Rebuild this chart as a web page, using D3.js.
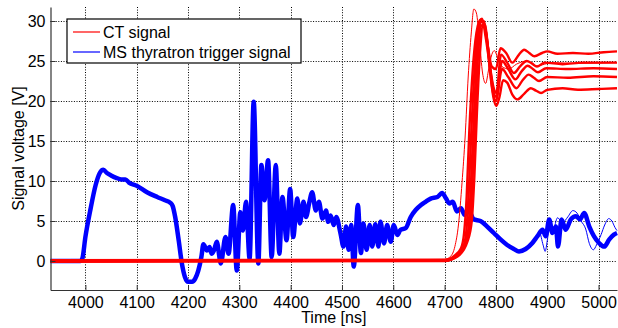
<!DOCTYPE html>
<html>
<head>
<meta charset="utf-8">
<script src="https://cdn.jsdelivr.net/npm/d3@7"></script>
<style>
  body { margin: 0; background: #fff; }
  text { font-family: "Liberation Sans", Arial, sans-serif; }
</style>
</head>
<body>
<svg id="plot"></svg>
<script>
// Tick values
var xTicks = [4000, 4100, 4200, 4300, 4400, 4500, 4600, 4700, 4800, 4900, 5000];
var yTicks = [0, 5, 10, 15, 20, 25, 30];

// MS thyratron trigger signal, main (thick) band: [time ns, volts]
var msMain = [
  [3932, 0], [3990, 0], [3994, 0.3], [4000, 3.0], [4010, 6.5], [4020, 9.5], [4028, 11.0],
  [4035, 11.4], [4042, 11.0], [4050, 10.7], [4060, 10.4], [4070, 10.2], [4078, 10.2],
  [4085, 9.8], [4100, 9.4], [4120, 8.6], [4140, 8.0], [4155, 7.6], [4165, 7.3], [4170, 6.9],
  [4175, 5.5], [4182, 2.5], [4188, -0.3], [4194, -2.0], [4200, -2.6], [4208, -2.6],
  [4214, -2.2], [4220, -1.2], [4226, 0.5], [4230, 2.1], [4237, 1.3], [4242, 1.75],
  [4246, 0.9], [4251, 1.4], [4256, 2.4], [4264, -0.3], [4273, 3.0], [4279, 0.9],
  [4288, 7.0], [4295, -1.2], [4302, 6.1], [4307, 3.8], [4313, 7.4], [4320, 0.3],
  [4328, 19.9], [4337, -0.3], [4343, 12.0], [4349, 7.6], [4356, 12.6], [4363, 0.5],
  [4371, 12.0], [4378, 0.9], [4384, 8.0], [4392, 2.6], [4399, 9.0], [4405, 3.0],
  [4413, 7.8], [4418, 4.7], [4425, 7.4], [4430, 5.5], [4436, 7.2], [4442, 8.6],
  [4449, 6.3], [4455, 7.4], [4462, 5.3], [4469, 6.3], [4473, 4.9], [4478, 5.7],
  [4484, 4.5], [4489, 5.5], [4497, 3.5], [4503, 1.8], [4508, 4.3], [4513, 1.4],
  [4518, 4.5], [4523, -0.7], [4531, 7.0], [4537, 1.0], [4542, 4.7], [4548, 1.4],
  [4554, 4.5], [4559, 1.8], [4565, 4.6], [4571, 1.8], [4575, 4.9], [4582, 2.2],
  [4588, 4.5], [4595, 2.4], [4601, 4.5], [4608, 3.25], [4614, 3.9], [4624, 4.1],
  [4634, 5.5], [4644, 6.4], [4654, 7.0], [4663, 7.4], [4673, 7.8], [4686, 8.0],
  [4695, 8.5], [4703, 7.8], [4709, 7.2], [4716, 7.4], [4724, 6.2], [4732, 6.6],
  [4739, 5.75], [4746, 6.4], [4757, 5.2], [4770, 5.0], [4783, 4.3], [4796, 3.5],
  [4809, 2.7], [4822, 2.0], [4835, 1.5], [4845, 1.2], [4858, 1.5], [4871, 2.25],
  [4881, 3.1], [4891, 3.9], [4897, 3.1], [4904, 5.2], [4910, 3.5], [4917, 4.3],
  [4921, 1.8], [4928, 5.2], [4936, 3.9], [4946, 5.2], [4956, 5.6], [4964, 5.2],
  [4972, 6.0], [4982, 4.3], [4991, 3.1], [5001, 2.25], [5011, 1.8], [5021, 2.7],
  [5030, 3.3], [5036, 3.5]
];

// MS thyratron trigger signal, one stray thin trace near the end
var msThin = [
  [4860, 1.5], [4875, 2.3], [4885, 3.5], [4892, 2.0], [4896, 1.2], [4900, 2.5],
  [4906, 5.0], [4912, 4.0], [4920, 5.4], [4930, 4.8], [4940, 5.5], [4950, 6.3],
  [4958, 6.0], [4966, 5.0], [4975, 4.0], [4982, 2.2], [4990, 1.4], [4996, 2.0],
  [5005, 3.3], [5012, 4.5], [5020, 5.3], [5026, 5.0], [5032, 4.2], [5036, 3.8]
];

// CT signal traces
var ctEarly = [
  [3932, 0], [4700, 0.2], [4712, 0.6], [4720, 1.8], [4727, 4.5], [4734, 9.8],
  [4740, 15.5], [4746, 23], [4752, 28.5], [4757, 31.5], [4762, 31], [4768, 27.5],
  [4774, 23.5], [4780, 22.2], [4786, 24], [4792, 25.8], [4797, 26.3], [4803, 25.5],
  [4812, 24.3], [4825, 24.0], [4840, 24.6], [4860, 25.0], [4880, 24.4], [4910, 24.8],
  [4960, 24.7], [5036, 24.8]
];
var ctA = [
  [3932, 0.05], [4700, 0.1], [4718, 0.6], [4732, 1.6], [4738, 3.5], [4743, 8], [4748, 16],
  [4755, 24], [4762, 28.5], [4770, 30.2], [4777, 29.5], [4785, 26.5], [4792, 24.3],
  [4800, 24.0], [4809, 26.6], [4820, 26.0], [4832, 24.8], [4845, 25.8], [4855, 26.4],
  [4865, 26.0], [4875, 25.6], [4890, 26.0], [4900, 26.2], [4920, 25.9], [4950, 26.0],
  [4980, 25.9], [5010, 26.1], [5036, 26.2]
];
var ctB = [
  [3932, -0.05], [4700, 0.05], [4720, 0.5], [4735, 1.5], [4742, 3.5], [4747, 8.5], [4752, 16],
  [4759, 24.5], [4766, 29.3], [4773, 30.3], [4780, 28.0], [4788, 24.5], [4795, 21.8],
  [4801, 21.0], [4810, 25.8], [4822, 24.8], [4835, 23.5], [4848, 24.4], [4860, 25.0],
  [4870, 24.7], [4880, 24.3], [4895, 24.8], [4930, 24.6], [4970, 24.8], [5036, 24.8]
];
var ctC = [
  [3932, 0.1], [4700, 0.15], [4722, 0.6], [4738, 1.8], [4746, 3.8], [4751, 9], [4756, 16.5],
  [4763, 25.5], [4770, 29.8], [4776, 30.0], [4783, 27.5], [4790, 23.5], [4796, 21.0],
  [4801, 20.5], [4812, 25.0], [4824, 24.0], [4838, 22.7], [4850, 23.7], [4862, 24.4],
  [4872, 24.0], [4882, 23.6], [4898, 24.1], [4940, 24.0], [4990, 24.1], [5036, 24.0]
];
var ctD = [
  [3932, -0.1], [4700, 0.0], [4724, 0.6], [4740, 2.0], [4749, 4.2], [4754, 9.5],
  [4759, 17], [4765, 25.5], [4771, 29.4], [4778, 29.6], [4785, 26.5], [4792, 22.0],
  [4800, 20.0], [4812, 24.0], [4824, 23.0], [4840, 21.6], [4852, 22.6], [4864, 23.3],
  [4874, 22.9], [4884, 22.5], [4900, 23.0], [4940, 22.9], [4990, 23.1], [5036, 23.0]
];
var ctE = [
  [3932, 0.0], [4700, 0.05], [4726, 0.6], [4745, 2.5], [4753, 5], [4758, 10.5], [4763, 18.5],
  [4769, 26], [4775, 29.5], [4781, 28.5], [4788, 24], [4795, 20.5], [4801, 19.4],
  [4807, 20.5], [4814, 22.6], [4822, 22.3], [4832, 20.8], [4842, 20.2], [4855, 20.9],
  [4868, 21.6], [4878, 21.3], [4888, 21.0], [4900, 21.4], [4930, 21.6], [4960, 21.4],
  [5000, 21.5], [5036, 21.6]
];

var legendLabels = ['CT signal', 'MS thyratron trigger signal'];

// Dimensions
var width = 618, height = 328;
var margin = {top: 7, right: 1, bottom: 38, left: 50.5};

var svg = d3.select('#plot')
  .attr('width', width)
  .attr('height', height);

// Scales
var x = d3.scaleLinear()
  .domain([3932, 5036])
  .range([margin.left, width - margin.right]);

var y = d3.scaleLinear()
  .domain([-3.625, 31.75])
  .range([height - margin.bottom, margin.top]);

var plotBottom = height - margin.bottom;

// Dotted grid
svg.append('g')
  .selectAll('line')
  .data(xTicks)
  .enter().append('line')
    .attr('x1', d => Math.round(x(d)) + 0.5).attr('x2', d => Math.round(x(d)) + 0.5)
    .attr('y1', margin.top).attr('y2', plotBottom)
    .attr('stroke', '#000')
    .attr('stroke-width', 1)
    .attr('stroke-dasharray', '1,1.6');

svg.append('g')
  .selectAll('line')
  .data(yTicks)
  .enter().append('line')
    .attr('x1', margin.left).attr('x2', width - margin.right)
    .attr('y1', d => Math.round(y(d)) + 0.5).attr('y2', d => Math.round(y(d)) + 0.5)
    .attr('stroke', '#000')
    .attr('stroke-width', 1)
    .attr('stroke-dasharray', '1,1.6');

// Lines
var line = d3.line()
  .x(d => x(d[0]))
  .y(d => y(d[1]))
  .curve(d3.curveMonotoneX);

var plotArea = svg.append('g');

plotArea.append('path')
  .datum(msThin)
  .attr('fill', 'none')
  .attr('stroke', '#0000ff')
  .attr('stroke-width', 1)
  .attr('d', line);

plotArea.append('path')
  .datum(msMain)
  .attr('fill', 'none')
  .attr('stroke', '#0000ff')
  .attr('stroke-width', 4.5)
  .attr('stroke-linejoin', 'round')
  .attr('d', line);

plotArea.selectAll('.ct')
  .data([ctA, ctB, ctC, ctD, ctE])
  .enter().append('path')
    .attr('class', 'ct')
    .attr('fill', 'none')
    .attr('stroke', '#ff0000')
    .attr('stroke-width', 2.4)
    .attr('stroke-linejoin', 'round')
    .attr('d', line);

plotArea.append('path')
  .datum(ctEarly)
  .attr('fill', 'none')
  .attr('stroke', '#ff0000')
  .attr('stroke-width', 1)
  .attr('d', line);

// Axes (ticks point inward)
var xAxis = svg.append('g')
  .attr('transform', 'translate(0,' + plotBottom + ')')
  .call(d3.axisBottom(x).tickValues(xTicks).tickFormat(d3.format('d'))
    .tickSizeInner(-5).tickSizeOuter(0).tickPadding(7));

var yAxis = svg.append('g')
  .attr('transform', 'translate(' + margin.left + ',0)')
  .call(d3.axisLeft(y).tickValues(yTicks).tickFormat(d3.format('d'))
    .tickSizeInner(-5).tickSizeOuter(0).tickPadding(5));

[xAxis, yAxis].forEach(function(g) {
  g.select('.domain').attr('stroke', '#333').attr('stroke-width', 1.2);
  g.selectAll('.tick line').attr('stroke', '#333');
  g.selectAll('text')
    .style('font-family', '"Liberation Sans", Arial, sans-serif')
    .style('font-size', '16px')
    .attr('fill', '#000');
});

// Axis labels
svg.append('text')
  .attr('x', (margin.left + width - margin.right) / 2)
  .attr('y', 323)
  .attr('text-anchor', 'middle')
  .style('font-size', '16px')
  .text('Time [ns]');

svg.append('text')
  .attr('transform', 'translate(23.5,' + ((margin.top + plotBottom) / 2) + ') rotate(-90)')
  .attr('text-anchor', 'middle')
  .style('font-size', '16px')
  .text('Signal voltage [V]');

// Legend
var legend = svg.append('g').attr('transform', 'translate(67,19)');

legend.append('rect')
  .attr('width', 234)
  .attr('height', 44)
  .attr('fill', '#fff')
  .attr('stroke', '#000')
  .attr('stroke-width', 1.2);

var items = legend.selectAll('.item')
  .data(legendLabels)
  .enter().append('g')
    .attr('class', 'item')
    .attr('transform', (d, i) => 'translate(0,' + (13 + i * 20) + ')');

items.append('line')
  .attr('x1', 6).attr('x2', 33)
  .attr('stroke', (d, i) => i === 0 ? '#ff0000' : '#0000ff')
  .attr('stroke-width', 1.2);

items.append('text')
  .attr('x', 36)
  .attr('y', 5.5)
  .style('font-size', '16px')
  .text(d => d);
</script>
</body>
</html>
